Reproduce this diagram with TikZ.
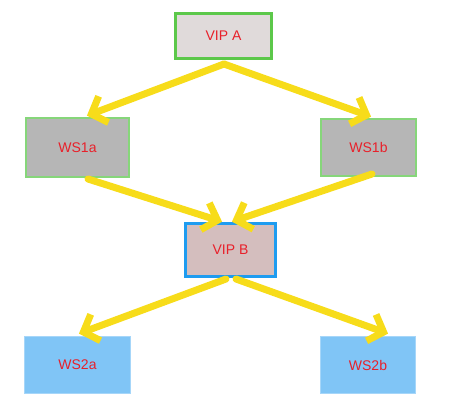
\documentclass[tikz,border=0pt]{standalone}
\usepackage{fontspec}
\setmainfont{Liberation Sans}
\usetikzlibrary{arrows.meta}
\definecolor{ylw}{HTML}{F7DC1A}
\definecolor{txtred}{HTML}{E8202A}
\definecolor{grnA}{HTML}{5CC84A}
\definecolor{grnB}{HTML}{86D67A}
\definecolor{fillA}{HTML}{E0DADA}
\definecolor{fillG}{HTML}{B6B6B6}
\definecolor{fillB}{HTML}{D4BEBE}
\definecolor{bluB}{HTML}{1E9CF0}
\definecolor{fillC}{HTML}{80C5F6}
\begin{document}
\begin{tikzpicture}[x=1pt,y=-1pt,
  box/.style={draw, inner sep=0pt, font=\fontsize{14}{16}\selectfont, text=txtred},
  arr/.style={draw=ylw, line width=7pt, line cap=round, -{Straight Barb[length=13pt,width=28pt,line width=7pt]}, shorten >=1pt}
]
\useasboundingbox (0,0) rectangle (449,408);
\node[box, draw=grnA, line width=3pt, fill=fillA, minimum width=96pt, minimum height=45pt] (vipa) at (223.5,36) {VIP A};
\node[box, draw=grnB, line width=2.5pt, fill=fillG, minimum width=103pt, minimum height=59pt] (ws1a) at (77.5,147.5) {WS1a};
\node[box, draw=grnB, line width=2.5pt, fill=fillG, minimum width=95pt, minimum height=57pt] (ws1b) at (368.5,147.5) {WS1b};
\node[box, draw=bluB, line width=3pt, fill=fillB, minimum width=90pt, minimum height=53pt] (vipb) at (230.5,250) {VIP B};
\node[box, draw=fillC!70!white, line width=1pt, fill=fillC, minimum width=106pt, minimum height=57pt] (ws2a) at (77.5,365) {WS2a};
\node[box, draw=fillC!70!white, line width=1pt, fill=fillC, minimum width=95pt, minimum height=57pt] (ws2b) at (368,365) {WS2b};

\coordinate (a0) at (224,64);
\draw[arr] (a0) -- (86,116);
\draw[arr] (a0) -- (372,117);
\draw[arr] (88,179) -- (223,222);
\draw[arr] (372,174) -- (231,222);
\draw[arr] (226,279) -- (78,334);
\draw[arr] (236,279) -- (389,334);
\end{tikzpicture}
\end{document}
